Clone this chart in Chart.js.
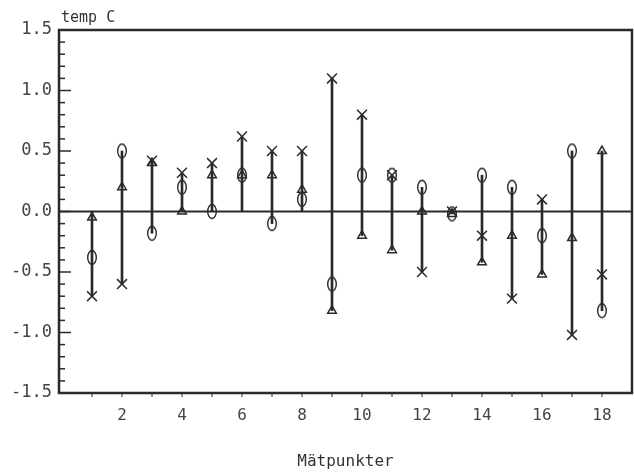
<!DOCTYPE html>
<html>
<head>
    <title>temp C - Mätpunkter</title>
    <style>
        body { margin: 0; background: #fff; }
        #wrap { width: 634px; height: 475px; }
    </style>
</head>
<body>
    <div id="wrap"><canvas id="chart" width="634" height="475"></canvas></div>
    <script src="https://cdn.jsdelivr.net/npm/chart.js"></script>
    <script>
        // measurement points and the three readings at each
        const points = [1, 2, 3, 4, 5, 6, 7, 8, 9, 10, 11, 12, 13, 14, 15, 16, 17, 18];
        const crossVals = [-0.7, -0.6, 0.42, 0.32, 0.4, 0.62, 0.5, 0.5, 1.1, 0.8, 0.3, -0.5, 0.0, -0.2, -0.72, 0.1, -1.02, -0.52];
        const circleVals = [-0.38, 0.5, -0.18, 0.2, 0.0, 0.3, -0.1, 0.1, -0.6, 0.3, 0.3, 0.2, -0.02, 0.3, 0.2, -0.2, 0.5, -0.82];
        const triangleVals = [-0.05, 0.2, 0.4, 0.0, 0.3, 0.3, 0.3, 0.18, -0.82, -0.2, -0.32, 0.0, -0.02, -0.42, -0.2, -0.52, -0.22, 0.5];
        const yTicks = [-1.5, -1.0, -0.5, 0.0, 0.5, 1.0, 1.5];
        const xTicks = [2, 4, 6, 8, 10, 12, 14, 16, 18];

        const ink = "#2a2a2a";
        const font = "'DejaVu Sans Mono', monospace";

        // tall ellipse marker, like the plotter's "0"
        function ellipseMarker() {
            const c = document.createElement("canvas");
            c.width = 12; c.height = 17;
            const g = c.getContext("2d");
            g.strokeStyle = ink;
            g.lineWidth = 1.4;
            g.beginPath();
            g.ellipse(6, 8.5, 4.3, 7, 0, 0, Math.PI * 2);
            g.stroke();
            return c;
        }

        // vertical range at each point, from 0 to the readings
        const ranges = points.map((p, i) => {
            const v = [crossVals[i], circleVals[i], triangleVals[i], 0];
            return { x: p, y: [Math.min(...v), Math.max(...v)] };
        });

        const frame = {
            id: "frame",
            beforeDatasetsDraw(chart) {
                const { ctx, chartArea: a, scales: { x, y } } = chart;
                ctx.save();
                ctx.strokeStyle = ink;
                // zero line
                ctx.lineWidth = 1.8;
                ctx.beginPath();
                ctx.moveTo(a.left, y.getPixelForValue(0));
                ctx.lineTo(a.right, y.getPixelForValue(0));
                ctx.stroke();
                // inner ticks on y axis
                ctx.lineWidth = 1.5;
                for (let k = -15; k <= 15; k++) {
                    const py = y.getPixelForValue(k / 10);
                    const len = k % 5 === 0 ? 12 : 6;
                    ctx.beginPath();
                    ctx.moveTo(a.left, py);
                    ctx.lineTo(a.left + len, py);
                    ctx.stroke();
                }
                // small ticks under x axis
                ctx.lineWidth = 1;
                for (let k = 1; k <= 18; k++) {
                    const px = x.getPixelForValue(k);
                    ctx.beginPath();
                    ctx.moveTo(px, a.bottom + 1);
                    ctx.lineTo(px, a.bottom + 4);
                    ctx.stroke();
                }
                // box
                ctx.lineWidth = 2.5;
                ctx.strokeRect(a.left, a.top, a.right - a.left, a.bottom - a.top);
                ctx.restore();
            },
            afterDraw(chart) {
                const { ctx, chartArea: a } = chart;
                ctx.save();
                ctx.fillStyle = "#333";
                ctx.font = "15px " + font;
                ctx.textBaseline = "bottom";
                ctx.fillText("temp C", a.left + 2, a.top - 4);
                ctx.restore();
            }
        };

        new Chart(document.getElementById("chart"), {
            type: "bar",
            data: {
                datasets: [
                    {
                        type: "bar",
                        data: ranges,
                        backgroundColor: ink,
                        barThickness: 2,
                        order: 3
                    },
                    {
                        type: "scatter",
                        data: points.map((p, i) => ({ x: p, y: crossVals[i] })),
                        pointStyle: "crossRot",
                        pointRadius: 7,
                        borderColor: ink,
                        borderWidth: 1.5,
                        order: 1
                    },
                    {
                        type: "scatter",
                        data: points.map((p, i) => ({ x: p, y: circleVals[i] })),
                        pointStyle: ellipseMarker(),
                        order: 1
                    },
                    {
                        type: "scatter",
                        data: points.map((p, i) => ({ x: p, y: triangleVals[i] })),
                        pointStyle: "triangle",
                        pointRadius: 5,
                        borderColor: ink,
                        backgroundColor: "rgba(255,255,255,0)",
                        borderWidth: 1.5,
                        order: 1
                    }
                ]
            },
            plugins: [frame],
            options: {
                responsive: false,
                animation: false,
                layout: { autoPadding: false, padding: { top: 30, right: 2 } },
                plugins: {
                    legend: { display: false },
                    tooltip: { enabled: false }
                },
                scales: {
                    x: {
                        type: "linear",
                        offset: false,
                        min: -0.1,
                        max: 19,
                        grid: { display: false, drawTicks: false, offset: false },
                        border: { display: false },
                        afterBuildTicks: s => { s.ticks = xTicks.map(v => ({ value: v })); },
                        afterFit: s => { s.height = 82; s.paddingLeft = 0; s.paddingRight = 0; },
                        ticks: {
                            color: "#444",
                            font: { family: font, size: 16 },
                            padding: 13,
                            maxRotation: 0
                        },
                        title: {
                            display: true,
                            text: "Mätpunkter",
                            color: "#333",
                            font: { family: font, size: 16 },
                            padding: { top: 22 }
                        }
                    },
                    y: {
                        min: -1.5,
                        max: 1.5,
                        grid: { display: false, drawTicks: false },
                        border: { display: false },
                        afterBuildTicks: s => { s.ticks = yTicks.map(v => ({ value: v })); },
                        afterFit: s => { s.width = 59; s.paddingTop = 0; s.paddingBottom = 0; },
                        ticks: {
                            color: "#444",
                            font: { family: font, size: 17 },
                            padding: 7,
                            callback: v => v.toFixed(1)
                        }
                    }
                }
            }
        });
    </script>
</body>
</html>
